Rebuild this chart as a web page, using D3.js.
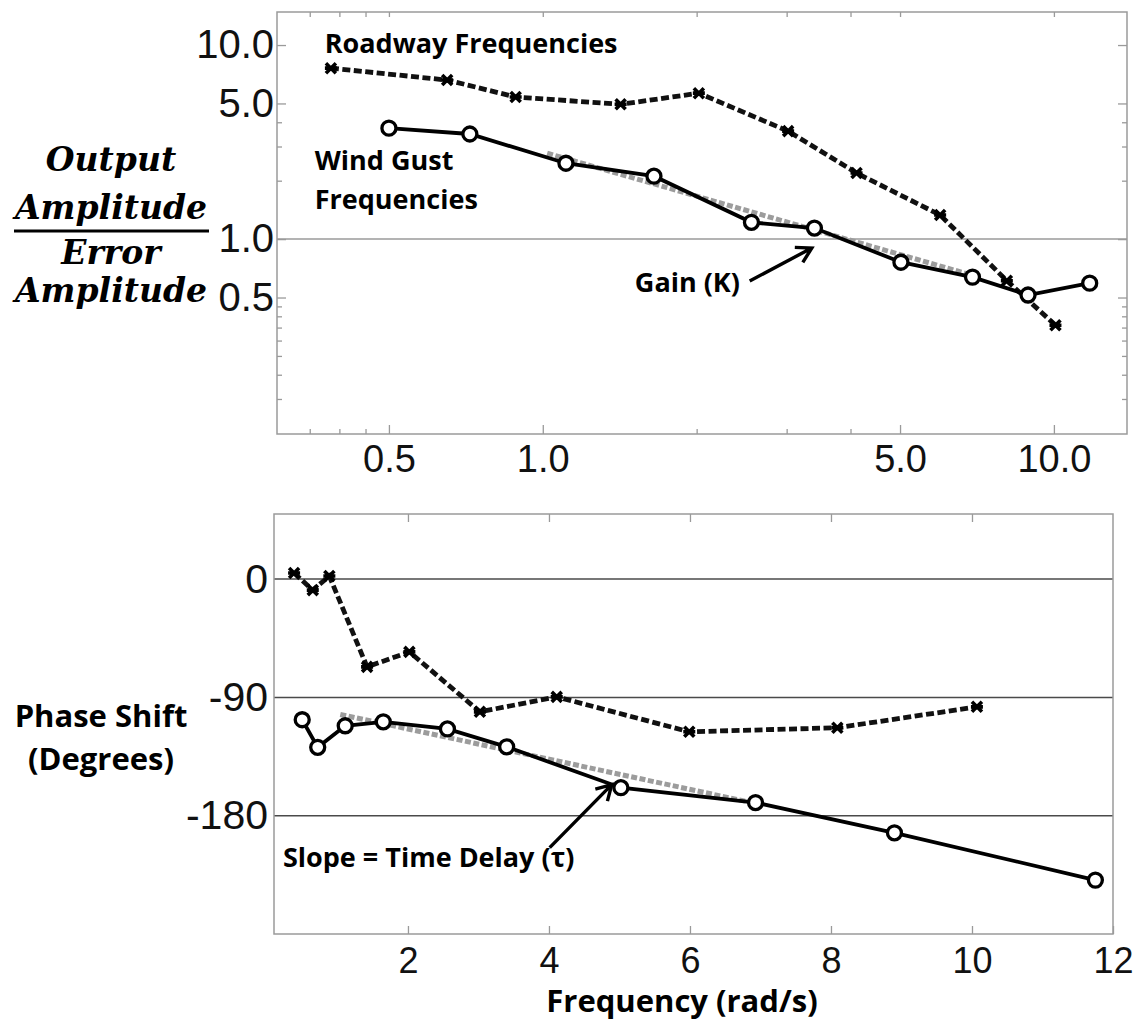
<!DOCTYPE html>
<html>
<head>
<meta charset="utf-8">
<script src="https://cdn.jsdelivr.net/npm/d3@7"></script>
<style>
  body { margin: 0; background: #fff; }
  svg { display: block; }
  .tick text { font-family: "Liberation Sans", Arial, sans-serif; fill: #111; }
  .note { font-family: "Open Sans", "Noto Sans", sans-serif; font-weight: 700; fill: #000; }
  .serif { font-family: "DejaVu Serif", serif; font-weight: 700; font-style: italic; fill: #000; }
</style>
</head>
<body>
<svg id="chart" width="1145" height="1026"></svg>
<script>
// ---------- data ----------
// Roadway (disturbance) input frequencies, rad/s
const roadFreq  = [0.385, 0.65, 0.885, 1.42, 2.02, 3.02, 4.11, 5.99, 8.09, 10.07];
const roadGain  = [7.6, 6.6, 5.4, 4.95, 5.65, 3.6, 2.19, 1.33, 0.61, 0.36];
const roadPhase = [4.6, -8.4, 2.3, -66.8, -55.4, -101, -89.6, -116.2, -113.1, -97.2];

// Wind-gust input frequencies, rad/s
const gustFreq  = [0.50, 0.72, 1.11, 1.65, 2.56, 3.40, 5.02, 6.93, 8.90, 11.75];
const gustGain  = [3.73, 3.48, 2.46, 2.11, 1.22, 1.14, 0.76, 0.637, 0.515, 0.593];
const gustPhase = [-107, -128, -111.6, -108.6, -114, -127.6, -158.7, -170, -193, -229];

// Fitted trend lines (end points)
const gainFitFreq  = [1.02, 6.8];
const gainFitVal   = [2.77, 0.66];
const phaseFitFreq = [1.04, 6.96];
const phaseFitVal  = [-103, -171];

// Tick values
const gainXMajor  = [0.5, 1.0, 5.0, 10.0];
const gainXMinor  = [0.35, 0.4, 0.45, 2, 3, 4];
const gainYMajor  = [10.0, 5.0, 1.0, 0.5];
const gainYMinor  = [4, 3, 2, 0.45, 0.4, 0.35, 0.3, 0.25, 0.2, 0.15];
const phaseXTicks = [2, 4, 6, 8, 10, 12];
const phaseYTicks = [0, -90, -180];

// ---------- layout ----------
const svg = d3.select("#chart");
const G = { left: 277, right: 1127, top: 12, bottom: 434 };
const P = { left: 274, right: 1113, top: 514, bottom: 934 };

const xG = d3.scaleLog().domain([0.302, 13.9]).range([G.left, G.right]);
const yG = d3.scaleLog().domain([0.099, 14.8]).range([G.bottom, G.top]);
const xP = d3.scaleLinear().domain([0.1, 12]).range([P.left, P.right]);
const yP = d3.scaleLinear().domain([-270, 49.5]).range([P.bottom, P.top]);

const AXIS_GREY = "#9a9a9a";
const plain = d => String(d);   // ASCII hyphen for negatives

function styleAxis(g, fontSize) {
  g.select(".domain").remove();
  g.selectAll(".tick line").attr("stroke", AXIS_GREY).attr("stroke-width", 1.3);
  g.selectAll(".tick text").attr("font-size", fontSize);
}

// ---------- gain (upper) panel ----------
// reference line at unity gain
svg.append("line")
  .attr("x1", G.left).attr("x2", G.right)
  .attr("y1", yG(1)).attr("y2", yG(1))
  .attr("stroke", "#9a9a9a").attr("stroke-width", 1.5);

// bottom axis (labelled) + minor ticks
svg.append("g").attr("transform", `translate(0,${G.bottom})`)
  .call(d3.axisBottom(xG).tickValues(gainXMajor).tickFormat(d3.format(".1f")).tickSize(-9).tickPadding(11))
  .call(g => styleAxis(g, 38));
svg.append("g").attr("transform", `translate(0,${G.bottom})`)
  .call(d3.axisBottom(xG).tickValues(gainXMinor).tickFormat("").tickSize(-5))
  .call(g => styleAxis(g, 38));
// top edge ticks
svg.append("g").attr("transform", `translate(0,${G.top})`)
  .call(d3.axisTop(xG).tickValues(gainXMajor.concat(gainXMinor)).tickFormat("").tickSize(-5))
  .call(g => styleAxis(g, 38));
// left axis (labelled) + minor ticks
svg.append("g").attr("transform", `translate(${G.left},0)`)
  .call(d3.axisLeft(yG).tickValues(gainYMajor).tickFormat(d3.format(".1f")).tickSize(-9).tickPadding(3))
  .call(g => styleAxis(g, 40));
svg.append("g").attr("transform", `translate(${G.left},0)`)
  .call(d3.axisLeft(yG).tickValues(gainYMinor).tickFormat("").tickSize(-5))
  .call(g => styleAxis(g, 40));
// right edge ticks
svg.append("g").attr("transform", `translate(${G.right},0)`)
  .call(d3.axisRight(yG).tickValues(gainYMajor).tickFormat("").tickSize(-9))
  .call(g => styleAxis(g, 40));
svg.append("g").attr("transform", `translate(${G.right},0)`)
  .call(d3.axisRight(yG).tickValues(gainYMinor).tickFormat("").tickSize(-5))
  .call(g => styleAxis(g, 40));

svg.append("rect")
  .attr("x", G.left).attr("y", G.top)
  .attr("width", G.right - G.left).attr("height", G.bottom - G.top)
  .attr("fill", "none").attr("stroke", AXIS_GREY).attr("stroke-width", 1.5);

// ---------- phase (lower) panel ----------
svg.append("g")
  .selectAll("line").data(phaseYTicks).join("line")
  .attr("x1", P.left).attr("x2", P.right)
  .attr("y1", d => yP(d)).attr("y2", d => yP(d))
  .attr("stroke", "#4a4a4a").attr("stroke-width", 1.5);

svg.append("g").attr("transform", `translate(0,${P.bottom})`)
  .call(d3.axisBottom(xP).tickValues(phaseXTicks).tickFormat(plain).tickSize(-8).tickPadding(13))
  .call(g => styleAxis(g, 36));
svg.append("g").attr("transform", `translate(0,${P.top})`)
  .call(d3.axisTop(xP).tickValues(phaseXTicks.slice(0, -1)).tickFormat("").tickSize(-8))
  .call(g => styleAxis(g, 36));
svg.append("g").attr("transform", `translate(${P.left},0)`)
  .call(d3.axisLeft(yP).tickValues(phaseYTicks).tickFormat(plain).tickSize(0).tickPadding(6))
  .call(g => styleAxis(g, 41));

svg.append("rect")
  .attr("x", P.left).attr("y", P.top)
  .attr("width", P.right - P.left).attr("height", P.bottom - P.top)
  .attr("fill", "none").attr("stroke", AXIS_GREY).attr("stroke-width", 1.5);

// ---------- series ----------
const zip = (xs, ys) => xs.map((x, i) => [x, ys[i]]);

function drawFit(xs, ys, sx, sy) {
  svg.append("path")
    .datum(zip(xs, ys))
    .attr("d", d3.line().x(d => sx(d[0])).y(d => sy(d[1])))
    .attr("fill", "none").attr("stroke", "#9c9c9c").attr("stroke-width", 5)
    .attr("stroke-dasharray", "6 2.5");
}

function drawRoad(xs, ys, sx, sy) {
  const pts = zip(xs, ys);
  svg.append("path")
    .datum(pts)
    .attr("d", d3.line().x(d => sx(d[0])).y(d => sy(d[1])))
    .attr("fill", "none").attr("stroke", "#111").attr("stroke-width", 4.8)
    .attr("stroke-dasharray", "8 3.5");
  svg.append("g").selectAll("path").data(pts).join("path")
    .attr("transform", d => `translate(${sx(d[0])},${sy(d[1])})`)
    .attr("d", "M-5,-5L5,5M-5,5L5,-5M-6,0L6,0")
    .attr("stroke", "#000").attr("stroke-width", 3.6).attr("fill", "none");
}

function drawGust(xs, ys, sx, sy) {
  const pts = zip(xs, ys);
  svg.append("path")
    .datum(pts)
    .attr("d", d3.line().x(d => sx(d[0])).y(d => sy(d[1])))
    .attr("fill", "none").attr("stroke", "#000").attr("stroke-width", 3.8);
  svg.append("g").selectAll("circle").data(pts).join("circle")
    .attr("cx", d => sx(d[0])).attr("cy", d => sy(d[1])).attr("r", 7)
    .attr("fill", "#fff").attr("stroke", "#000").attr("stroke-width", 3.3);
}

drawFit(gainFitFreq, gainFitVal, xG, yG);
drawRoad(roadFreq, roadGain, xG, yG);
drawGust(gustFreq, gustGain, xG, yG);

drawFit(phaseFitFreq, phaseFitVal, xP, yP);
drawRoad(roadFreq, roadPhase, xP, yP);
drawGust(gustFreq, gustPhase, xP, yP);

// ---------- annotations ----------
function note(text, x, y, size) {
  svg.append("text").attr("class", "note")
    .attr("x", x).attr("y", y).attr("font-size", size).text(text);
}
function arrow(x1, y1, x2, y2) {
  const a = Math.atan2(y2 - y1, x2 - x1), L = 17, spread = Math.PI / 6;
  const p = d3.path();
  p.moveTo(x1, y1); p.lineTo(x2, y2);
  p.moveTo(x2 - L * Math.cos(a - spread), y2 - L * Math.sin(a - spread));
  p.lineTo(x2, y2);
  p.lineTo(x2 - L * Math.cos(a + spread), y2 - L * Math.sin(a + spread));
  svg.append("path").attr("d", p.toString())
    .attr("fill", "none").attr("stroke", "#000").attr("stroke-width", 3.4)
    .attr("stroke-linejoin", "miter");
}

note("Roadway Frequencies", xG(0.3745), yG(9.1), 27);
note("Wind Gust", xG(0.358), yG(2.27), 27);
note("Frequencies", xG(0.358), yG(1.428), 27);
note("Gain (K)", xG(1.514), yG(0.533), 27);
arrow(xG(2.54), yG(0.608), xG(3.36), yG(0.90));

note("Slope = Time Delay (\u03c4)", xP(0.227), yP(-219.4), 27);
arrow(xP(4.01), yP(-204.3), xP(4.89), yP(-156.4));

// axis titles
svg.append("text").attr("class", "note").attr("text-anchor", "middle")
  .attr("x", 682).attr("y", 1012).attr("font-size", 31).text("Frequency (rad/s)");

const phaseTitle = svg.append("text").attr("class", "note").attr("text-anchor", "middle").attr("font-size", 31);
phaseTitle.append("tspan").attr("x", 101).attr("y", 727).text("Phase Shift");
phaseTitle.append("tspan").attr("x", 101).attr("y", 770).text("(Degrees)");

const ratio = svg.append("text").attr("class", "serif").attr("text-anchor", "middle").attr("font-size", 33);
ratio.append("tspan").attr("x", 111).attr("y", 171).text("Output");
ratio.append("tspan").attr("x", 111).attr("y", 219).text("Amplitude");
ratio.append("tspan").attr("x", 111).attr("y", 264).text("Error");
ratio.append("tspan").attr("x", 111).attr("y", 302).text("Amplitude");
svg.append("line").attr("x1", 14).attr("x2", 209).attr("y1", 231).attr("y2", 231)
  .attr("stroke", "#000").attr("stroke-width", 3);
</script>
</body>
</html>
